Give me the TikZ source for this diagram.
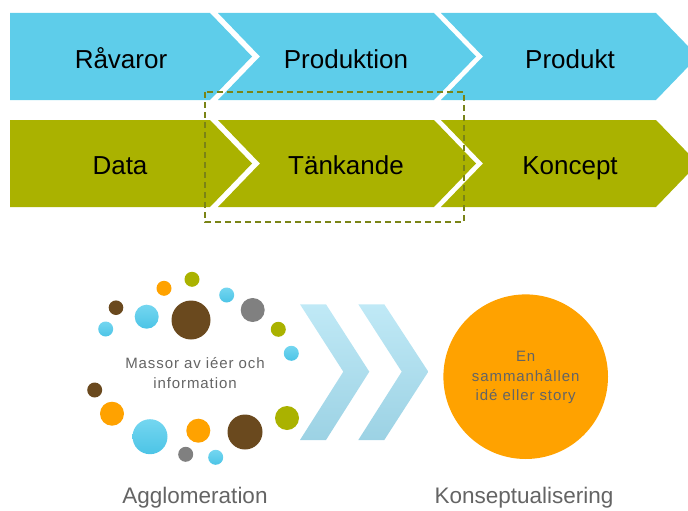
\documentclass[tikz,border=0pt]{standalone}
\usepackage{fontspec}
\setmainfont{Liberation Sans}
\definecolor{cyanC}{RGB}{94,205,234}
\definecolor{oliveC}{RGB}{170,178,0}
\definecolor{dashC}{RGB}{122,132,22}
\definecolor{brownC}{RGB}{106,73,30}
\definecolor{dotbluetop}{RGB}{116,214,240}
\definecolor{dotbluebot}{RGB}{76,196,230}
\definecolor{orangeC}{RGB}{255,162,0}
\definecolor{grayC}{RGB}{128,128,128}
\definecolor{txtgray}{RGB}{100,100,100}
\definecolor{chevtop}{RGB}{192,233,246}
\definecolor{chevbot}{RGB}{156,210,228}
\tikzset{
  biglabel/.style={anchor=base, text=black, font=\fontsize{26}{30}\selectfont},
  sublabel/.style={anchor=base, text=txtgray, font=\fontsize{22.5}{26}\selectfont},
  smalltext/.style={align=center, text=txtgray, inner sep=0pt,
     font=\fontsize{15}{19.5}\selectfont\addfontfeature{LetterSpace=6}},
  bdot/.style={fill=brownC}, cdot/.style={top color=dotbluetop, bottom color=dotbluebot}, odot/.style={fill=orangeC},
  gdot/.style={fill=grayC}, vdot/.style={fill=oliveC}
}
\begin{document}
\begin{tikzpicture}[x=1pt,y=-1pt]
\useasboundingbox (0,0) rectangle (688,511);
\clip (0,0) rectangle (688,511);
% top row
\fill[cyanC] (10,13) -- (210,13) -- (252,56.5) -- (210,100) -- (10,100) -- cycle;
\fill[cyanC] (218,13) -- (434,13) -- (476,56.5) -- (434,100) -- (218,100) -- (260,56.5) -- cycle;
\fill[cyanC] (441,13) -- (656,13) -- (698,56.5) -- (656,100) -- (441,100) -- (483,56.5) -- cycle;
% bottom row
\fill[oliveC] (10,120) -- (210,120) -- (252,163.5) -- (210,207) -- (10,207) -- cycle;
\fill[oliveC] (218,120) -- (434,120) -- (476,163.5) -- (434,207) -- (218,207) -- (260,163.5) -- cycle;
\fill[oliveC] (441,120) -- (656,120) -- (698,163.5) -- (656,207) -- (441,207) -- (483,163.5) -- cycle;
\node[biglabel] (ravaror) at (121,68) {Råvaror};
\node[biglabel] (produktion) at (346,68) {Produktion};
\node[biglabel] (produkt) at (570,68) {Produkt};
\node[biglabel] (data) at (120,174) {Data};
\node[biglabel] (tankande) at (346,174) {Tänkande};
\node[biglabel] (koncept) at (570,174) {Koncept};
% dashed box
\draw[dashC, line width=1.4pt, dash pattern=on 6pt off 4pt] (205,92) rectangle (464,222);
% dots
\fill[bdot] (116,307.7) circle (7.3);
\shade[cdot] (105.7,329) circle (7.5);
\shade[cdot] (146.7,316.7) circle (12);
\fill[odot] (164,288.3) circle (7.5);
\fill[vdot] (192,279.3) circle (7.5);
\fill[bdot] (191,320) circle (19.5);
\shade[cdot] (226.7,295) circle (7.5);
\fill[gdot] (252.7,310) circle (12);
\fill[vdot] (278.3,329.3) circle (7.5);
\shade[cdot] (291.3,353.3) circle (7.5);
\fill[bdot] (94.7,390) circle (7.5);
\fill[odot] (112,413.7) circle (12);
\shade[cdot] (150,436.7) circle (17.5);
\fill[odot] (198.3,430.7) circle (12);
\fill[gdot] (185.7,454.3) circle (7.5);
\shade[cdot] (215.7,457.3) circle (7.5);
\fill[bdot] (245,432) circle (17.5);
\fill[vdot] (287,418) circle (12);
\node[smalltext] (massor) at (195,373) {Massor av iéer och\\information};
% light chevrons
\shade[top color=chevtop, bottom color=chevbot] (300,304.3) -- (326,304.3) -- (369.3,371.7) -- (326,440) -- (300,440) -- (343.3,371.7) -- cycle;
\shade[top color=chevtop, bottom color=chevbot] (358.3,304.3) -- (384.3,304.3) -- (428.3,371.7) -- (384.3,440) -- (358.3,440) -- (401.7,371.7) -- cycle;
% idea circle
\node[circle, fill=orangeC, minimum size=164.6pt, inner sep=0pt] (idea) at (525.7,376.7) {};
\node[smalltext] (ideatext) at ([yshift=-1pt]idea.center) {En\\sammanhållen\\idé eller story};
\node[sublabel] (agglo) at (195,503) {Agglomeration};
\node[sublabel] (konsept) at (524,503) {Konseptualisering};
\end{tikzpicture}
\end{document}
